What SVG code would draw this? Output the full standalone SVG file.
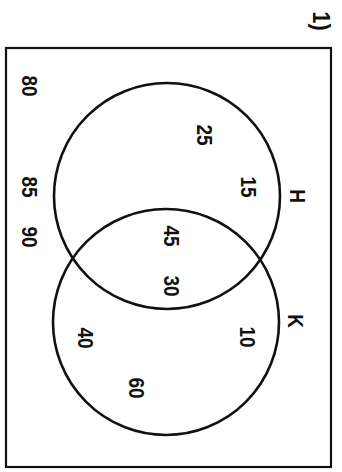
<svg xmlns="http://www.w3.org/2000/svg" width="342" height="472" viewBox="0 0 342 472">
<style>
.t{font-family:"Liberation Sans",Arial,sans-serif;font-size:19px;font-weight:bold;fill:#111;text-anchor:middle;dominant-baseline:central}
.c{fill:none;stroke:#111;stroke-width:2.6}
</style>
<rect width="342" height="472" fill="#fff"/>
<g id="universe"><rect x="6" y="48" width="325" height="419" fill="none" stroke="#111" stroke-width="2.2"/></g>
<g id="H"><circle class="c" cx="167" cy="196" r="113"/></g>
<g id="K"><circle class="c" cx="166" cy="322" r="113"/></g>
<g id="connectors"></g>
<g id="labels">
<text class="t" style="font-size:22px" transform="translate(321,21) rotate(90) scale(1,1.1)">1)</text>
<text class="t" transform="translate(30,86) rotate(90) scale(1,1.2)">80</text>
<text class="t" transform="translate(205,135) rotate(90) scale(1,1.2)">25</text>
<text class="t" transform="translate(249,187) rotate(90) scale(1,1.2)">15</text>
<text class="t" transform="translate(298,196) rotate(90) scale(1,1.2)">H</text>
<text class="t" transform="translate(30,187) rotate(90) scale(1,1.2)">85</text>
<text class="t" transform="translate(30,237) rotate(90) scale(1,1.2)">90</text>
<text class="t" transform="translate(172,236) rotate(90) scale(1,1.2)">45</text>
<text class="t" transform="translate(172,286) rotate(90) scale(1,1.2)">30</text>
<text class="t" transform="translate(296,321) rotate(90) scale(1,1.2)">K</text>
<text class="t" transform="translate(248,337) rotate(90) scale(1,1.2)">10</text>
<text class="t" transform="translate(86,338) rotate(90) scale(1,1.2)">40</text>
<text class="t" transform="translate(137,388) rotate(90) scale(1,1.2)">60</text>
</g>
</svg>
